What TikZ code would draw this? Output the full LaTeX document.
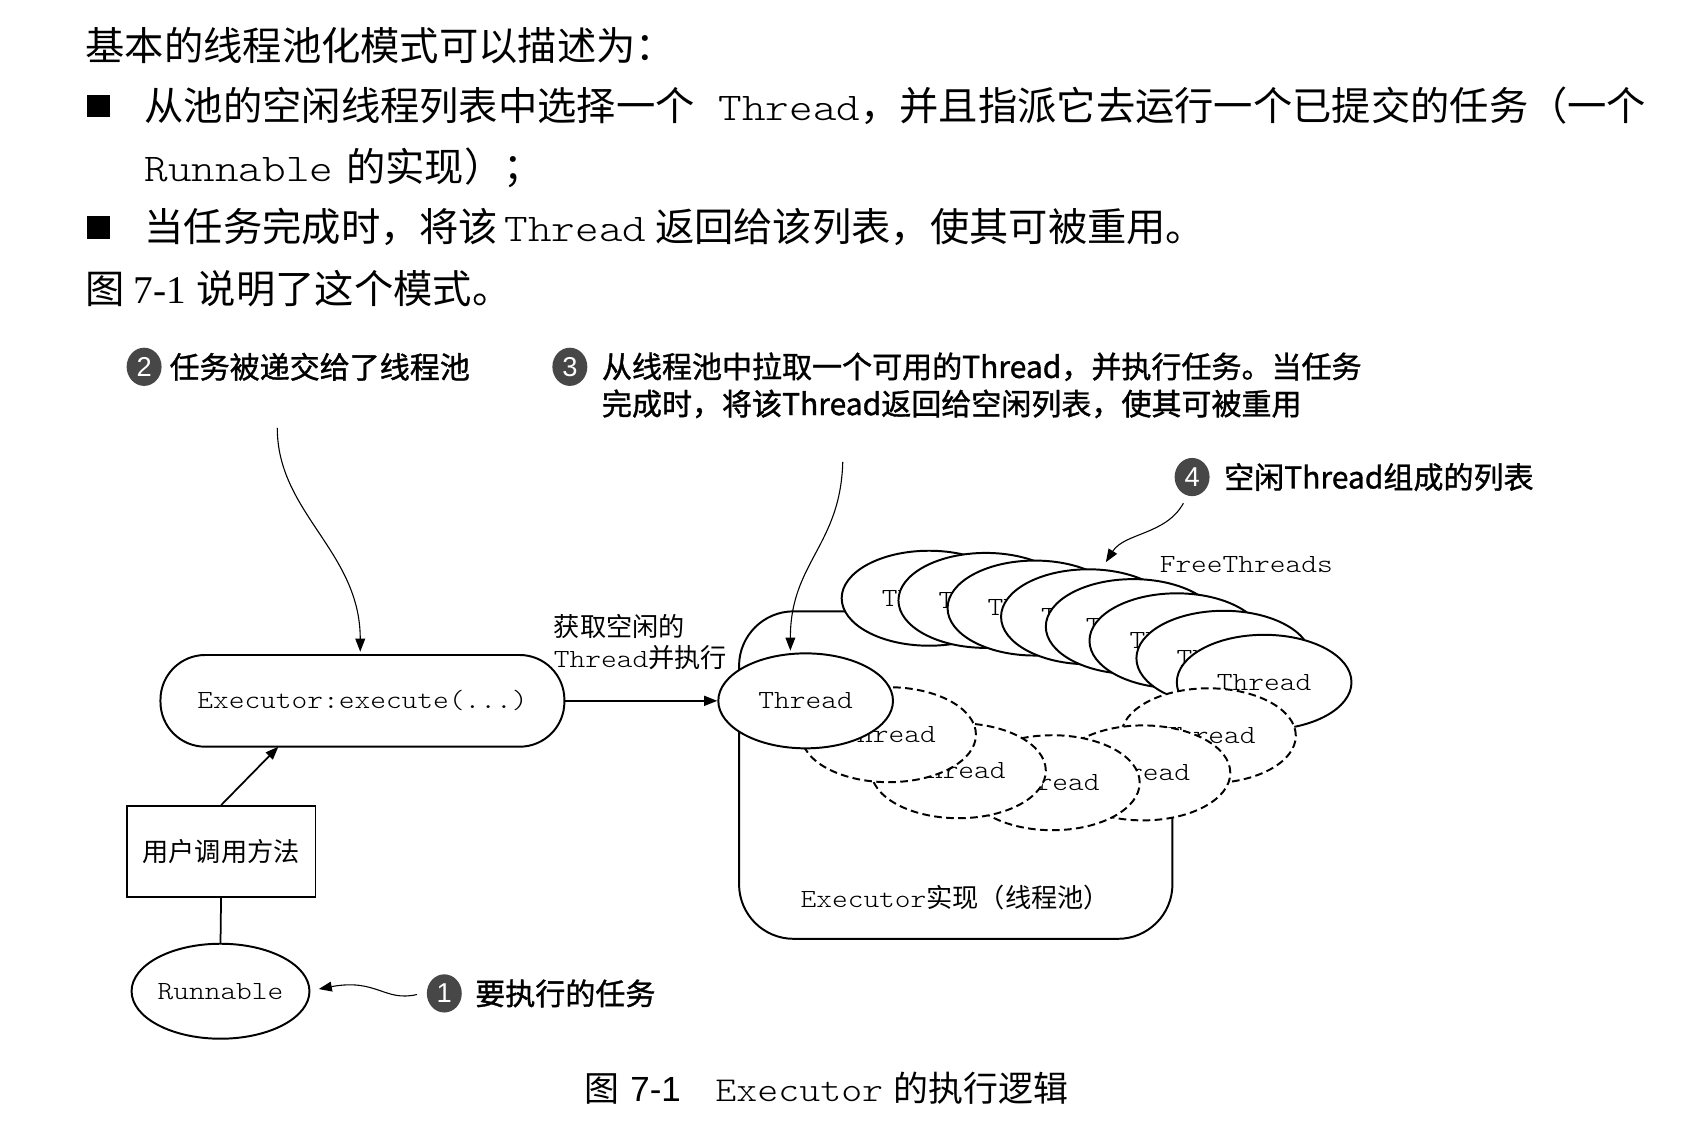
\documentclass[tikz,border=0pt]{standalone}
\usepackage{fontspec}
\setmainfont{Liberation Serif}
\setsansfont{Liberation Sans}
\setmonofont{lmmonolt10-regular.otf}[FakeStretch=1.143]
\newfontfamily\zhfont{Noto Sans CJK SC}
\newfontfamily\zhbold{Noto Sans CJK SC}[FakeBold=1.2]
\usetikzlibrary{arrows.meta,shapes.geometric,calc}
\begin{document}
\begin{tikzpicture}[x=0.5pt,y=-0.5pt,
  body/.style={anchor=base west, inner sep=0, font=\fontsize{18}{22}\selectfont},
  note/.style={anchor=west, inner sep=0, font=\zhbold\fontsize{13.75}{17}\selectfont},
  num/.style={ellipse, fill=black!72, text=white, inner sep=0, minimum width=16pt, minimum height=17.5pt, font=\sffamily\fontsize{12.5}{13}\selectfont},
  lab/.style={inner sep=0, font=\fontsize{12}{14}\selectfont},
  thr/.style={ellipse, draw, fill=white, line width=0.9pt, minimum width=80pt, minimum height=43.5pt, inner sep=0, font=\ttfamily\fontsize{12}{14}\selectfont},
  dthr/.style={thr, dash pattern=on 3.5pt off 2pt},
  arr/.style={-{Triangle[length=6pt,width=4.5pt]}, line width=0.5pt},
  arrthick/.style={-{Triangle[length=6pt,width=4.5pt]}, line width=0.8pt}]
\useasboundingbox (0,0) rectangle (1560,1031.5);

% ---- body text ----
\node[body] (l1) at (78,55) {\zhfont 基本的线程池化模式可以描述为：};
\fill (80,87) rectangle (101,107);
\node[body] (l2) at (132,110) {\zhfont 从池的空闲线程列表中选择一个\hspace{11pt}{\ttfamily Thread}，并且指派它去运行一个已提交的任务（一个};
\node[body] (l3) at (132,166) {{\ttfamily Runnable}\hspace{6pt}{\zhfont 的实现）；}};
\fill (80,198) rectangle (101,219);
\node[body] (l4) at (132,221) {\zhfont 当任务完成时，将该\hspace{3pt}{\ttfamily Thread}\hspace{4pt}返回给该列表，使其可被重用。};
\node[body] (l5) at (78,278) {{\zhfont 图}\hspace{4pt}7-1\hspace{5pt}{\zhfont 说明了这个模式。}};

% ---- annotations ----
\node[num] (n2) at (132,336) {2};
\node[note] (a2) at (155,336) {任务被递交给了线程池};
\node[num] (n3) at (522,336) {3};
\node[note] (a3a) at (551,336) {从线程池中拉取一个可用的Thread，并执行任务。当任务};
\node[note] (a3b) at (551,370) {完成时，将该Thread返回给空闲列表，使其可被重用};
\node[num] (n4) at (1092,437) {4};
\node[note] (a4) at (1121,437) {空闲Thread组成的列表};
\node[num] (n1) at (407,910) {1};
\node[note] (a1) at (435,910) {要执行的任务};

\coordinate (c2) at (254,392);
\coordinate (c3) at (772,423);
\coordinate (c4) at (1084,461);
\coordinate (c1) at (382,911);

% ---- pool container ----
\node[draw, line width=0.9pt, rounded corners=25pt, minimum width=198.5pt, minimum height=150pt, inner sep=0] (pool) at (875.5,710) {};
\node[lab] (poollab) at (875,822) {{\ttfamily Executor}{\zhfont 实现（线程池）}};

% ---- free threads (solid stack) ----
\node[thr] (f1) at (851,548) {Thread};
\node[thr] (f2) at (903,550) {Thread};
\node[thr] (f3) at (948,557) {Thread};
\node[thr] (f4) at (997,565) {Thread};
\node[thr] (f5) at (1038,574) {Thread};
\node[thr] (f6) at (1078,587) {Thread};
\node[thr] (f7) at (1121,603) {Thread};
\node[thr] (f8) at (1158,625) {Thread};
\node[lab, anchor=west, font=\ttfamily\fontsize{12}{14}\selectfont] (free) at (1062,517) {FreeThreads};

% ---- busy threads (dashed) ----
\node[dthr] (d5) at (1107,674) {Thread};
\node[dthr] (d4) at (1047,708) {Thread};
\node[dthr] (d3) at (964,717) {Thread};
\node[dthr] (d2) at (878,706) {Thread};
\node[dthr] (d1) at (814,673) {Thread};
\node[thr] (t0) at (738,642) {Thread};

% ---- left part ----
\node[draw, line width=0.9pt, rounded corners=20.5pt, minimum width=185pt, minimum height=42pt, inner sep=0, font=\ttfamily\fontsize{12}{14}\selectfont] (exec) at (332,642) {Executor:execute(...)};
\node[draw, line width=0.9pt, minimum width=86.5pt, minimum height=41.5pt, inner sep=0, font=\zhfont\fontsize{12}{14}\selectfont] (user) at (202.5,780) {用户调用方法};
\node[thr] (run) at (202,908) {Runnable};
\node[lab, anchor=west] (g1) at (507,574) {\zhfont 获取空闲的};
\node[lab, anchor=west] (g2) at (507,602) {{\ttfamily Thread}{\zhfont 并执行}};

\coordinate (execin) at (255,684);
\draw[arrthick] (exec) -- (t0);
\draw[arrthick] (user.north) -- (execin);
\draw[line width=0.8pt] (user.south) -- (run.north);

% ---- annotation arrows ----
\draw[arr] (c2) .. controls (254,470) and (330,505) .. (330,597);
\draw[arr] (c3) .. controls (770,500) and (724,515) .. (724,596);
\draw[arr] (c4) .. controls (1068,490) and (1030,488) .. (1013,515);
\draw[arr] (c1) .. controls (352,918) and (345,896) .. (292,906);

% ---- caption ----
\node[anchor=base west, inner sep=0, font=\zhfont\fontsize{16}{18}\selectfont] (cap1) at (535,1009) {图};
\node[anchor=base west, inner sep=0, font=\sffamily\fontsize{16}{18}\selectfont] (cap2) at (577,1009) {7-1};
\node[anchor=base west, inner sep=0, font=\ttfamily\fontsize{16}{18}\selectfont] (cap3) at (655,1009) {Executor};
\node[anchor=base west, inner sep=0, font=\zhfont\fontsize{16}{18}\selectfont] (cap4) at (818,1009) {的执行逻辑};
\end{tikzpicture}
\end{document}
